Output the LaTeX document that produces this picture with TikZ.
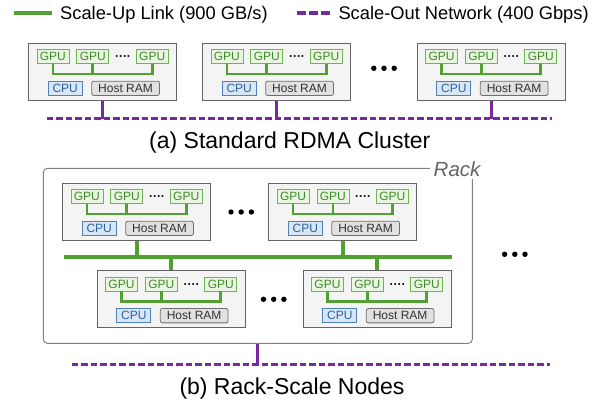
\documentclass[tikz,border=0pt]{standalone}
\usepackage{fontspec}
\setmainfont{Liberation Sans}
\definecolor{gline}{RGB}{82,160,50}
\definecolor{gfill}{RGB}{234,245,226}
\definecolor{gborder}{RGB}{110,180,80}
\definecolor{gtext}{RGB}{60,140,40}
\definecolor{cfill}{RGB}{216,230,245}
\definecolor{cborder}{RGB}{80,130,180}
\definecolor{ctext}{RGB}{45,100,160}
\definecolor{rfill}{RGB}{225,225,225}
\definecolor{rborder}{RGB}{110,110,110}
\definecolor{hfill}{RGB}{244,244,244}
\definecolor{hborder}{RGB}{100,100,100}
\definecolor{purp}{RGB}{118,42,160}
\definecolor{rackgray}{RGB}{130,130,130}
\tikzset{
  hostbox/.style={draw=hborder, fill=hfill, line width=1pt, minimum width=148pt, minimum height=57pt, inner sep=0pt},
  smallfont/.style={font=\fontsize{12}{12}\selectfont},
  gpubox/.style={draw=gborder, fill=gfill, line width=0.8pt, text=gtext, minimum width=32pt, minimum height=14pt, inner sep=0pt, smallfont},
  cpubox/.style={draw=cborder, fill=cfill, line width=0.8pt, text=ctext, minimum width=34pt, minimum height=14.3pt, inner sep=0pt, smallfont},
  rambox/.style={draw=rborder, fill=rfill, line width=0.8pt, rounded corners=2pt, text=black!80, minimum width=67.7pt, minimum height=14.3pt, inner sep=0pt, smallfont},
  dotsty/.style={inner sep=0pt, font=\fontsize{12}{12}\selectfont\bfseries},
  gbus/.style={draw=gline, line width=2.7pt},
  rbus/.style={draw=gline, line width=4pt},
  pnet/.style={draw=purp, line width=3.2pt, dash pattern=on 6.5pt off 3pt},
  plink/.style={draw=purp, line width=3pt},
  rackbox/.style={draw=rackgray, line width=1pt, rounded corners=4pt, minimum width=429pt, minimum height=175pt, inner sep=0pt},
  racklbl/.style={fill=white, text=black!60, inner xsep=3.5pt, inner ysep=2pt, font=\fontsize{20.5}{22}\selectfont\itshape},
  legendtxt/.style={inner sep=0pt, font=\fontsize{18.3}{20}\selectfont},
  captxt/.style={inner sep=0pt, font=\fontsize{23}{25}\selectfont},
}
\newcommand{\hostnode}[3]{%
  \begin{scope}[shift={(#2,#3)}]
    \node[hostbox] (#1) at (74,28.5) {};
    \node[gpubox] (#1g1) at (24.2,13.2) {GPU};
    \node[gpubox] (#1g2) at (64.1,13.2) {GPU};
    \node[gpubox] (#1g3) at (123.5,13.2) {GPU};
    \node[dotsty, anchor=base] (#1dd) at (94.3,17.5) {····};
    \coordinate (#1bus) at (0,30.7);
    \draw[gbus] (#1g1.south) -- (#1g1.south |- #1bus) -- (#1g3.south |- #1bus) -- (#1g3.south);
    \draw[gbus] (#1g2.south) -- (#1g2.south |- #1bus);
    \node[cpubox] (#1cpu) at (36.5,45) {CPU};
    \node[rambox] (#1ram) at (96.85,45) {Host RAM};
  \end{scope}}
\begin{document}
\begin{tikzpicture}[x=1pt,y=-1pt]
\useasboundingbox (0,0) rectangle (598,402);
% legend
\coordinate (lgA) at (14,13.3);
\coordinate (lgB) at (51.7,13.3);
\draw[gline, line width=4pt] (lgA) -- (lgB);
\node[legendtxt, anchor=base west] (lgtA) at (60,19.3) {Scale-Up Link (900 GB/s)};
\coordinate (lgC) at (297.3,13.3);
\coordinate (lgD) at (331,13.3);
\draw[purp, line width=4pt, dash pattern=on 8.7pt off 3.3pt] (lgC) -- (lgD);
\node[legendtxt, anchor=base west] (lgtB) at (338.3,19.3) {Scale-Out Network (400 Gbps)};
% (a) standard cluster
\coordinate (netaL) at (46.7,118.7);
\coordinate (netaR) at (552.3,118.7);
\draw[pnet] (netaL) -- (netaR);
\hostnode{a1}{28.7}{43.3}
\hostnode{a2}{202.7}{43.3}
\hostnode{a3}{417.3}{43.3}
\foreach \n in {a1,a2,a3} \draw[plink] (\n.south) -- (\n.south |- netaL);
\foreach \dx in {-10.2,0,10.2} \fill (384+\dx,68.3) circle (2.7pt);
\node[captxt, anchor=base west] (capA) at (149,148.5) {(a) Standard RDMA Cluster};
% (b) rack-scale
\node[rackbox] (rack) at (257.8,255.8) {};
\node[racklbl, anchor=base west] (racklabel) at (430,176.7) {Rack};
\coordinate (netbL) at (71.7,364.3);
\coordinate (netbR) at (550,364.3);
\draw[pnet] (netbL) -- (netbR);
\draw[plink] (rack.south) -- (rack.south |- netbL);
\hostnode{b1}{62.7}{183.3}
\hostnode{b2}{268.8}{183.3}
\hostnode{b3}{97.3}{270.7}
\hostnode{b4}{303.3}{270.7}
\coordinate (busL) at (64,256.7);
\coordinate (busR) at (452.3,256.7);
\draw[rbus] (busL) -- (busR);
\draw[rbus] (b1.south) -- (b1.south |- busL);
\draw[rbus] (b2.south) -- (b2.south |- busL);
\draw[rbus] (b3.north) -- (b3.north |- busL);
\draw[rbus] (b4.north) -- (b4.north |- busL);
\foreach \dx in {-10.2,0,10.2} {
  \fill (241.2+\dx,212) circle (2.7pt);
  \fill (273.7+\dx,299.3) circle (2.7pt);
  \fill (514.8+\dx,254.3) circle (2.7pt);
}
\node[captxt, anchor=base west] (capB) at (179.3,394.7) {(b) Rack-Scale Nodes};
\end{tikzpicture}
\end{document}
